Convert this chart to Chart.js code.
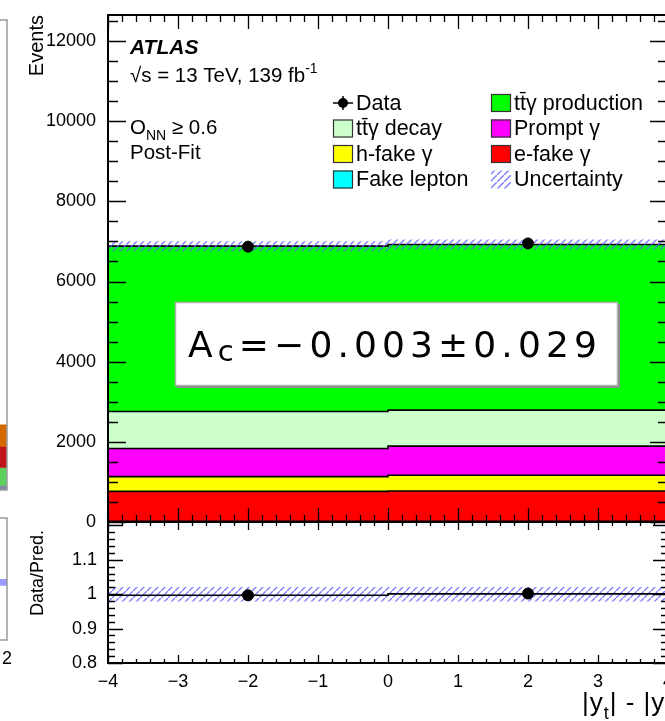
<!DOCTYPE html>
<html>
<head>
<meta charset="utf-8">
<script src="https://cdn.jsdelivr.net/npm/chart.js@4.4.1/dist/chart.umd.min.js"></script>
<style>
  html, body { margin: 0; padding: 0; background: #fff; overflow: hidden; }
  #wrap { position: relative; width: 665px; height: 721px; overflow: hidden; }
  canvas { position: absolute; }
</style>
</head>
<body>
<div id="wrap">
  <canvas id="nbMain" width="201" height="500" style="left:-193px;top:0px"></canvas>
  <canvas id="nbRatio" width="215" height="180" style="left:-193px;top:505px"></canvas>
  <canvas id="mainChart" width="680" height="540" style="left:0px;top:0px"></canvas>
  <canvas id="ratioChart" width="680" height="221" style="left:0px;top:500px"></canvas>
</div>
<script>
// bins and ticks
var binEdges = [-4, 0, 4];
var xTickValues = [-4, -3, -2, -1, 0, 1, 2, 3, 4];
var mainYTickValues = [0, 2000, 4000, 6000, 8000, 10000, 12000];
var ratioYTickValues = [0.8, 0.9, 1, 1.1];

// post-fit yields per bin (bottom of the stack first)
var fakeLepton    = [15, 15];
var eFakeGamma    = [750, 760];
var hFakeGamma    = [368, 392];
var promptGamma   = [700, 725];
var ttgDecay      = [925, 900];
var ttgProduction = [4125, 4133];
var dataEvents    = [6870, 6950];
var predUnc       = [125, 125];

// lower panel
var ratioData = [0.997, 1.002];
var ratioLine = [0.997, 1.001];
var ratioUnc  = [0.021, 0.021];

// neighbouring figure, only its right edge is in the picture
var nbStackLabels = ['other', 'green', 'red', 'orange'];
var nbStackValues = [0.85, 3.8, 4.5, 4.7];
var nbBandLow  = [0.955, 0.955];
var nbBandHigh = [1.0, 1.0];
var nbBandX    = [0, 2];

var stackLabels = ['Fake lepton', 'e-fake \u03b3', 'h-fake \u03b3', 'Prompt \u03b3', 'tt\u0304\u03b3 decay', 'tt\u0304\u03b3 production'];
var stackValues = [fakeLepton, eFakeGamma, hFakeGamma, promptGamma, ttgDecay, ttgProduction];
var stackColors = ['#00ffff', '#ff0000', '#ffff00', '#ff00ff', '#ccffcc', '#00ff00'];
var legendOrder = ['Data', 'tt\u0304\u03b3 production', 'tt\u0304\u03b3 decay', 'Prompt \u03b3',
                   'h-fake \u03b3', 'e-fake \u03b3', 'Fake lepton', 'Uncertainty'];

var FONT = '"Liberation Sans", Arial, Helvetica, sans-serif';

function stepPoints(vals) {
  var pts = [];
  for (var i = 0; i < vals.length; i++) pts.push({x: binEdges[i], y: vals[i]});
  pts.push({x: binEdges[binEdges.length - 1], y: vals[vals.length - 1]});
  return pts;
}
function centerPoints(vals) {
  return vals.map(function(v, i) { return {x: (binEdges[i] + binEdges[i + 1]) / 2, y: v}; });
}
function hatch() {
  var c = document.createElement('canvas');
  c.width = 7; c.height = 7;
  var g = c.getContext('2d');
  g.strokeStyle = 'rgba(95,95,255,0.8)';
  g.lineWidth = 1.4;
  g.beginPath(); g.moveTo(-1, 8); g.lineTo(8, -1); g.stroke();
  return g.createPattern(c, 'repeat');
}
var hatchFill = hatch();

function drawParts(ctx, x, y, parts, size) {
  var cx = x;
  parts.forEach(function(p) {
    var fs = p.sub || p.sup ? Math.round(size * (p.scale || 0.7)) : size;
    ctx.font = (p.style || '') + ' ' + fs + 'px ' + (p.family || FONT);
    var dy = p.sub ? size * (p.drop || 0.3) : (p.sup ? -size * 0.42 : 0);
    ctx.fillText(p.t, cx, y + dy);
    cx += ctx.measureText(p.t).width;
  });
  return cx - x;
}

// ROOT style frame with inward ticks on all four sides
var rootFrame = {
  id: 'rootFrame',
  afterDraw: function(chart, args, opts) {
    var ctx = chart.ctx, a = chart.chartArea;
    ctx.save();
    ctx.strokeStyle = opts.color || '#000';
    ctx.lineWidth = 1.3;
    ['x', 'y'].forEach(function(axis) {
      var spec = opts[axis];
      if (!spec) return;
      var sc = chart.scales[axis];
      var every = Math.round(spec.major / spec.minor);
      var k0 = Math.ceil(sc.min / spec.minor - 1e-6), k1 = Math.floor(sc.max / spec.minor + 1e-6);
      ctx.beginPath();
      for (var k = k0; k <= k1; k++) {
        var len = (k % every === 0) ? spec.majLen : spec.minLen;
        var p = Math.round(sc.getPixelForValue(k * spec.minor)) + 0.5;
        if (axis === 'x') {
          ctx.moveTo(p, a.bottom); ctx.lineTo(p, a.bottom - len);
          ctx.moveTo(p, a.top); ctx.lineTo(p, a.top + len);
        } else {
          ctx.moveTo(a.left, p); ctx.lineTo(a.left + len, p);
          ctx.moveTo(a.right, p); ctx.lineTo(a.right - len, p);
        }
      }
      ctx.stroke();
    });
    ctx.lineWidth = opts.frameWidth || 2;
    ctx.strokeRect(a.left, a.top, a.right - a.left, a.bottom - a.top);
    ctx.restore();
  }
};

// ---------- main panel ----------
var mainDatasets = [];
var running = binEdges.slice(1).map(function() { return 0; });
stackValues.forEach(function(vals, k) {
  running = running.map(function(r, i) { return r + vals[i]; });
  mainDatasets.push({
    label: stackLabels[k],
    data: stepPoints(running),
    stepped: 'before',
    fill: k === 0 ? 'origin' : '-1',
    backgroundColor: stackColors[k],
    borderColor: '#000',
    borderWidth: 1.6,
    pointRadius: 0,
    order: 2
  });
});
var totalPred = running;
mainDatasets.push({
  label: 'uncLow',
  data: stepPoints(totalPred.map(function(t, i) { return t - predUnc[i]; })),
  stepped: 'before', fill: false, borderWidth: 0, borderColor: 'rgba(0,0,0,0)', pointRadius: 0, order: 1
});
mainDatasets.push({
  label: 'Uncertainty',
  data: stepPoints(totalPred.map(function(t, i) { return t + predUnc[i]; })),
  stepped: 'before', fill: '-1', backgroundColor: hatchFill, borderWidth: 0, borderColor: 'rgba(0,0,0,0)', pointRadius: 0, order: 1
});
mainDatasets.push({
  label: 'Data',
  data: centerPoints(dataEvents),
  showLine: false, pointRadius: 5.5, pointBackgroundColor: '#000', pointBorderColor: '#000', order: 0
});

var mainDecor = {
  id: 'mainDecor',
  afterDatasetsDraw: function(chart) {
    var ctx = chart.ctx;
    ctx.save();
    // fit result box
    ctx.fillStyle = '#8a8a8a';
    ctx.fillRect(177, 304, 443, 84);
    ctx.fillStyle = '#fff';
    ctx.fillRect(175, 302, 443, 84);
    ctx.strokeStyle = '#b0b0b0';
    ctx.lineWidth = 1.5;
    ctx.strokeRect(175.5, 302.5, 442, 83);
    ctx.fillStyle = '#000';
    ctx.textBaseline = 'alphabetic';
    var fam = '"DejaVu Sans", sans-serif';
    var parts = [{t: 'A', family: fam}, {t: 'c', sub: true, scale: 0.8, drop: 0.12, family: fam},
                 {t: '=\u22120.003\u00b10.029', family: fam}];
    ctx.globalAlpha = 0;
    ctx.letterSpacing = '0px';
    var w = drawParts(ctx, 0, 0, parts, 36);
    ctx.globalAlpha = 1;
    ctx.letterSpacing = Math.max(0, (414 - w) / 15).toFixed(2) + 'px';
    drawParts(ctx, 188, 357, parts, 36);
    ctx.restore();
  },
  afterDraw: function(chart) {
    var ctx = chart.ctx;
    ctx.save();
    ctx.fillStyle = '#000';
    ctx.textBaseline = 'alphabetic';
    ctx.textAlign = 'left';
    drawParts(ctx, 130, 54, [{t: 'ATLAS', style: 'italic bold'}], 21);
    drawParts(ctx, 130, 82, [{t: '\u221as = 13 TeV, 139 fb'}, {t: '-1', sup: true}], 20.5);
    drawParts(ctx, 130, 134, [{t: 'O'}, {t: 'NN', sub: true}, {t: ' \u2265 0.6'}], 20.5);
    drawParts(ctx, 130, 159, [{t: 'Post-Fit'}], 20.5);

    // y title
    ctx.save();
    ctx.translate(37, 15);
    ctx.rotate(-Math.PI / 2);
    ctx.textAlign = 'right';
    ctx.textBaseline = 'middle';
    ctx.font = '20px ' + FONT;
    ctx.fillText('Events', 0, 0);
    ctx.restore();

    // legend, two columns
    var colX = [333, 491];
    legendOrder.forEach(function(name, i) {
      var ds = chart.data.datasets.find(function(d) { return d.label === name; });
      var bx = colX[i % 2], cy = 103 + Math.floor(i / 2) * 25.5;
      if (name === 'Data') {
        ctx.strokeStyle = '#000';
        ctx.lineWidth = 1.5;
        ctx.beginPath();
        ctx.moveTo(bx, cy); ctx.lineTo(bx + 20, cy);
        ctx.moveTo(bx + 10, cy - 7); ctx.lineTo(bx + 10, cy + 7);
        ctx.stroke();
        ctx.fillStyle = '#000';
        ctx.beginPath(); ctx.arc(bx + 10, cy, 5, 0, Math.PI * 2); ctx.fill();
      } else if (name === 'Uncertainty') {
        ctx.fillStyle = ds.backgroundColor;
        ctx.fillRect(bx, cy - 9, 20, 18);
      } else {
        ctx.fillStyle = ds.backgroundColor;
        ctx.fillRect(bx, cy - 9, 20, 18);
        ctx.strokeStyle = '#333';
        ctx.lineWidth = 1.2;
        ctx.strokeRect(bx + 0.5, cy - 8.5, 19, 17);
      }
      ctx.fillStyle = '#000';
      ctx.textBaseline = 'middle';
      ctx.font = '21.5px ' + FONT;
      ctx.fillText(name, bx + 23, cy + 1);
    });
    ctx.restore();
  }
};

new Chart(document.getElementById('mainChart'), {
  type: 'line',
  data: { datasets: mainDatasets },
  options: {
    responsive: false,
    animation: false,
    events: [],
    layout: { padding: { left: 0, top: 15, right: 12, bottom: 18 } },
    plugins: {
      legend: { display: false },
      tooltip: { enabled: false },
      rootFrame: {
        x: { minor: 0.2, major: 1, majLen: 14, minLen: 7 },
        y: { minor: 500, major: 2000, majLen: 18, minLen: 10 },
        frameWidth: 2
      }
    },
    scales: {
      x: { type: 'linear', min: -4, max: 4, display: false },
      y: {
        type: 'linear', min: 0, max: 12650,
        grid: { display: false }, border: { display: false },
        afterBuildTicks: function(scale) { scale.ticks = mainYTickValues.map(function(v) { return {value: v}; }); },
        afterFit: function(scale) { scale.width = 108; },
        ticks: { padding: 4, color: '#000', font: { family: FONT, size: 18 },
                 callback: function(v) { return String(v); } }
      }
    }
  },
  plugins: [rootFrame, mainDecor]
});

// ---------- ratio panel ----------
var RATIO_TOP = 500;
var ratioDecor = {
  id: 'ratioDecor',
  afterDraw: function(chart) {
    var ctx = chart.ctx;
    ctx.save();
    ctx.fillStyle = '#000';
    ctx.save();
    ctx.translate(38, 573 - RATIO_TOP);
    ctx.rotate(-Math.PI / 2);
    ctx.textAlign = 'center';
    ctx.textBaseline = 'middle';
    ctx.font = '18px ' + FONT;
    ctx.fillText('Data/Pred.', 0, 0);
    ctx.restore();
    ctx.textAlign = 'left';
    ctx.textBaseline = 'alphabetic';
    ctx.letterSpacing = '1px';
    drawParts(ctx, 582, 711 - RATIO_TOP, [{t: '|y'}, {t: 't', sub: true}, {t: '| - |y'}, {t: 't\u0304', sub: true}, {t: '|'}], 26);
    ctx.restore();
  }
};

new Chart(document.getElementById('ratioChart'), {
  type: 'line',
  data: {
    datasets: [
      { label: 'ratioUncLow', data: stepPoints(ratioUnc.map(function(u) { return 1 - u; })),
        stepped: 'before', fill: false, borderWidth: 0, borderColor: 'rgba(0,0,0,0)', pointRadius: 0, order: 1 },
      { label: 'ratioUncHigh', data: stepPoints(ratioUnc.map(function(u) { return 1 + u; })),
        stepped: 'before', fill: '-1', backgroundColor: hatchFill, borderWidth: 0, borderColor: 'rgba(0,0,0,0)', pointRadius: 0, order: 1 },
      { label: 'ratioLine', data: stepPoints(ratioLine), stepped: 'before', fill: false,
        borderColor: '#000', borderWidth: 1.6, pointRadius: 0, order: 0 },
      { label: 'ratioData', data: centerPoints(ratioData), showLine: false, pointRadius: 5.5,
        pointBackgroundColor: '#000', pointBorderColor: '#000', order: 0 }
    ]
  },
  options: {
    responsive: false,
    animation: false,
    events: [],
    layout: { padding: { left: 0, top: 22, right: 12, bottom: 0 } },
    plugins: {
      legend: { display: false },
      tooltip: { enabled: false },
      rootFrame: {
        x: { minor: 0.2, major: 1, majLen: 8, minLen: 4 },
        y: { minor: 0.02, major: 0.1, majLen: 15, minLen: 7 },
        frameWidth: 2
      }
    },
    scales: {
      x: {
        type: 'linear', min: -4, max: 4,
        grid: { display: false }, border: { display: false },
        afterBuildTicks: function(scale) { scale.ticks = xTickValues.map(function(v) { return {value: v}; }); },
        afterFit: function(scale) { scale.height = 58; },
        ticks: { padding: 0, autoSkip: false, maxRotation: 0, color: '#000', font: { family: FONT, size: 18 },
                 callback: function(v) { return v < 0 ? '\u2212' + Math.abs(v) : String(v); } }
      },
      y: {
        type: 'linear', min: 0.8, max: 1.21,
        grid: { display: false }, border: { display: false },
        afterBuildTicks: function(scale) { scale.ticks = ratioYTickValues.map(function(v) { return {value: v}; }); },
        afterFit: function(scale) { scale.width = 108; },
        ticks: { padding: 3, color: '#000', font: { family: FONT, size: 18 },
                 callback: function(v) { return String(v); } }
      }
    }
  },
  plugins: [rootFrame, ratioDecor]
});

// ---------- edge of the neighbouring figure ----------
var nbColors = ['#7f8aa8', '#5ccf5c', '#c0141c', '#d56a00'];
new Chart(document.getElementById('nbMain'), {
  type: 'bar',
  data: {
    labels: ['last'],
    datasets: nbStackValues.map(function(v, i) {
      return { label: nbStackLabels[i], data: [v], backgroundColor: nbColors[i],
               barPercentage: 1, categoryPercentage: 1 };
    })
  },
  options: {
    responsive: false, animation: false, events: [],
    layout: { padding: { left: 0, top: 20, right: 1, bottom: 10 } },
    plugins: { legend: { display: false }, tooltip: { enabled: false },
               rootFrame: { color: '#9a9a9a', frameWidth: 1.5 } },
    scales: {
      x: { display: false, stacked: true },
      y: { display: false, stacked: true, min: 0, max: 100 }
    }
  },
  plugins: [rootFrame]
});

new Chart(document.getElementById('nbRatio'), {
  type: 'line',
  data: {
    datasets: [
      { label: 'low', data: nbBandX.map(function(x, i) { return {x: x, y: nbBandLow[i]}; }),
        fill: false, borderWidth: 0, borderColor: 'rgba(0,0,0,0)', pointRadius: 0 },
      { label: 'high', data: nbBandX.map(function(x, i) { return {x: x, y: nbBandHigh[i]}; }),
        fill: '-1', backgroundColor: 'rgba(120,120,255,0.75)', borderWidth: 0, borderColor: 'rgba(0,0,0,0)', pointRadius: 0 }
    ]
  },
  options: {
    responsive: false, animation: false, events: [],
    layout: { padding: { left: 0, top: 13, right: 15, bottom: 0 } },
    plugins: { legend: { display: false }, tooltip: { enabled: false },
               rootFrame: { color: '#9a9a9a', frameWidth: 1.5 } },
    scales: {
      x: {
        type: 'linear', min: 0, max: 2,
        grid: { display: false }, border: { display: false },
        afterBuildTicks: function(scale) { scale.ticks = [{value: 2}]; },
        afterFit: function(scale) { scale.height = 45; },
        ticks: { padding: 0, autoSkip: false, maxRotation: 0, color: '#000', font: { family: FONT, size: 18 } }
      },
      y: { display: false, min: 0.6, max: 1.4 }
    }
  },
  plugins: [rootFrame]
});
</script>
</body>
</html>
